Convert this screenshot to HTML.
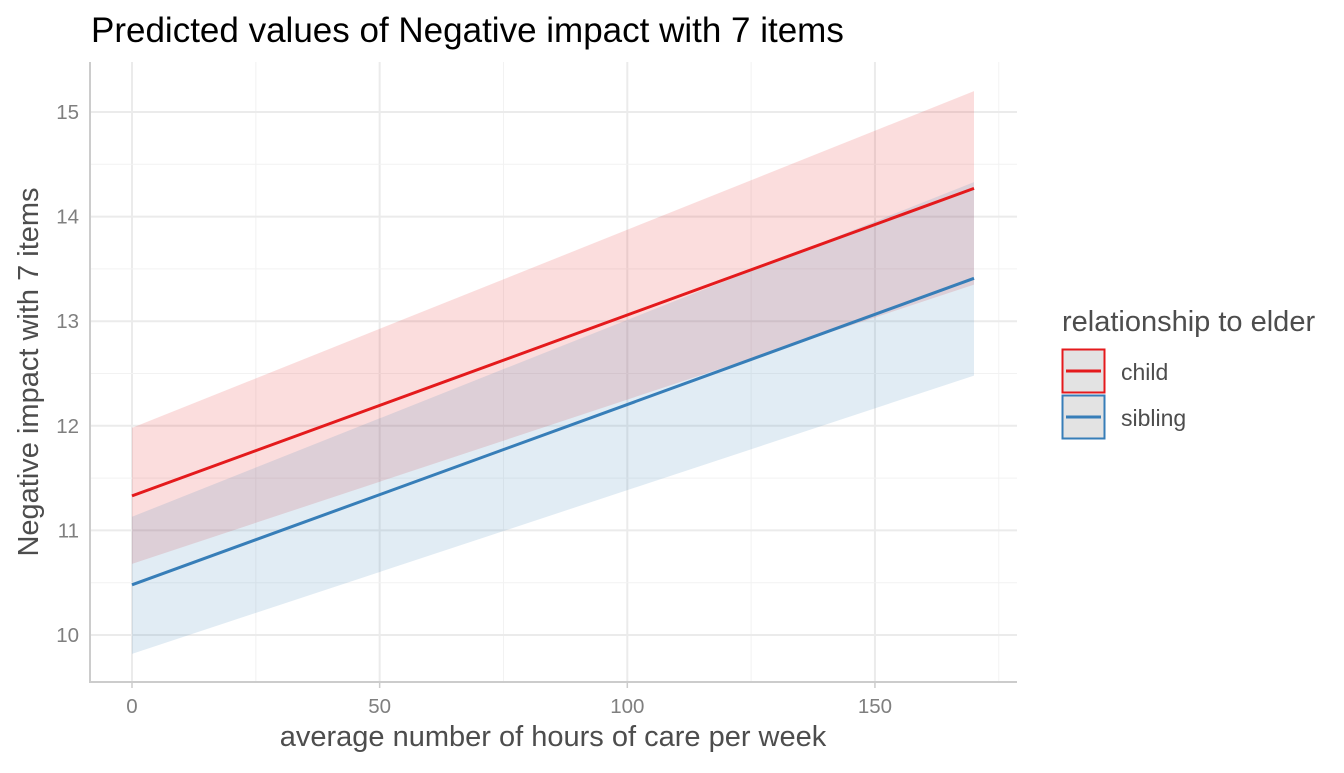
<!DOCTYPE html>
<html><head><meta charset="utf-8"><style>
body{margin:0;background:#fff;}
svg text{font-family:"Liberation Sans",sans-serif;}
</style></head><body>
<svg id="chart" width="1344" height="768" viewBox="0 0 1344 768">
<text x="91" y="42" font-size="35" fill="#000">Predicted values of Negative impact with 7 items</text>
<g id="grid"></g><g id="ribbons"></g><g id="lines"></g><g id="axes"></g>
<text x="553" y="746" font-size="29" fill="#4d4d4d" text-anchor="middle">average number of hours of care per week</text>
<text transform="translate(38,372) rotate(-90)" font-size="29" fill="#4d4d4d" text-anchor="middle">Negative impact with 7 items</text>
<g>
<text x="1062" y="331" font-size="29" fill="#4d4d4d">relationship to elder</text>
<g><rect x="1062.5" y="349.5" width="42" height="43" fill="#e3e3e3" stroke="#e41a1c" stroke-width="2"/><line x1="1066" x2="1101" y1="371" y2="371" stroke="#e41a1c" stroke-width="3"/><text x="1121" y="380" font-size="23" fill="#4d4d4d">child</text></g>
<g><rect x="1062.5" y="395.5" width="42" height="43" fill="#e3e3e3" stroke="#377eb8" stroke-width="2"/><line x1="1066" x2="1101" y1="417" y2="417" stroke="#377eb8" stroke-width="3"/><text x="1121" y="426" font-size="23" fill="#4d4d4d">sibling</text></g>
</g>
</svg>
<script>
const xTicks=[0,50,100,150];
const yTicks=[10,11,12,13,14,15];
const xEnds=[0,170];
const childFit=[11.33,14.27];
const childLow=[10.68,13.35];
const childHigh=[11.98,15.2];
const sibFit=[10.48,13.41];
const sibLow=[9.82,12.48];
const sibHigh=[11.13,14.33];
const NS='http://www.w3.org/2000/svg';
const X=v=>132+v*4.953;
const Y=v=>635-(v-10)*104.6;
function mk(tag,attrs,parent){const e=document.createElementNS(NS,tag);for(const k in attrs)e.setAttribute(k,attrs[k]);document.getElementById(parent).appendChild(e);return e;}
const L=90,R=1017,T=62,B=682;
for(let i=0;i<xTicks.length;i++){const v=xTicks[i];
 const m=mk('line',{x1:X(v),x2:X(v),y1:T,y2:B,stroke:'#ebebeb','stroke-width':2},'grid');
 
 
 const mn=mk('line',{x1:X(v+25),x2:X(v+25),y1:T,y2:B,stroke:'#f2f2f2','stroke-width':1},'grid');
 
 
 const t=mk('text',{x:X(v),y:713,'font-size':20.5,fill:'#7f7f7f','text-anchor':'middle'},'axes');t.textContent=v;
 
 
 const tk=mk('line',{x1:X(v),x2:X(v),y1:B,y2:B+6,stroke:'#ccc','stroke-width':1.5},'axes');
 
 
}
for(let i=0;i<yTicks.length;i++){const v=yTicks[i];
 const m=mk('line',{x1:L,x2:R,y1:Y(v),y2:Y(v),stroke:'#ebebeb','stroke-width':2},'grid');
 
 
 if(i<yTicks.length-1){const mn=mk('line',{x1:L,x2:R,y1:Y(v+0.5),y2:Y(v+0.5),stroke:'#f2f2f2','stroke-width':1},'grid');
 
 }
 const t=mk('text',{x:79,y:Y(v)+7,'font-size':20.5,fill:'#7f7f7f','text-anchor':'end'},'axes');t.textContent=v;
 
 
}
const al=mk('path',{d:`M${L},${T} V${B} H${R}`,fill:'none',stroke:'#cccccc','stroke-width':2},'axes');


function ribbon(lo,hi,col,name){const d=`M${X(xEnds[0])},${Y(hi[0])} L${X(xEnds[1])},${Y(hi[1])} L${X(xEnds[1])},${Y(lo[1])} L${X(xEnds[0])},${Y(lo[0])} Z`;
 const p=mk('path',{d,fill:col,'fill-opacity':0.15},'ribbons');
 
 }
ribbon(childLow,childHigh,'#e41a1c','child-ci-ribbon');
ribbon(sibLow,sibHigh,'#377eb8','sibling-ci-ribbon');
function line(f,col,name){const p=mk('line',{x1:X(xEnds[0]),y1:Y(f[0]),x2:X(xEnds[1]),y2:Y(f[1]),stroke:col,'stroke-width':3},'lines');
 
 }
line(childFit,'#e41a1c','child-line');
line(sibFit,'#377eb8','sibling-line');
</script>
</body></html>
